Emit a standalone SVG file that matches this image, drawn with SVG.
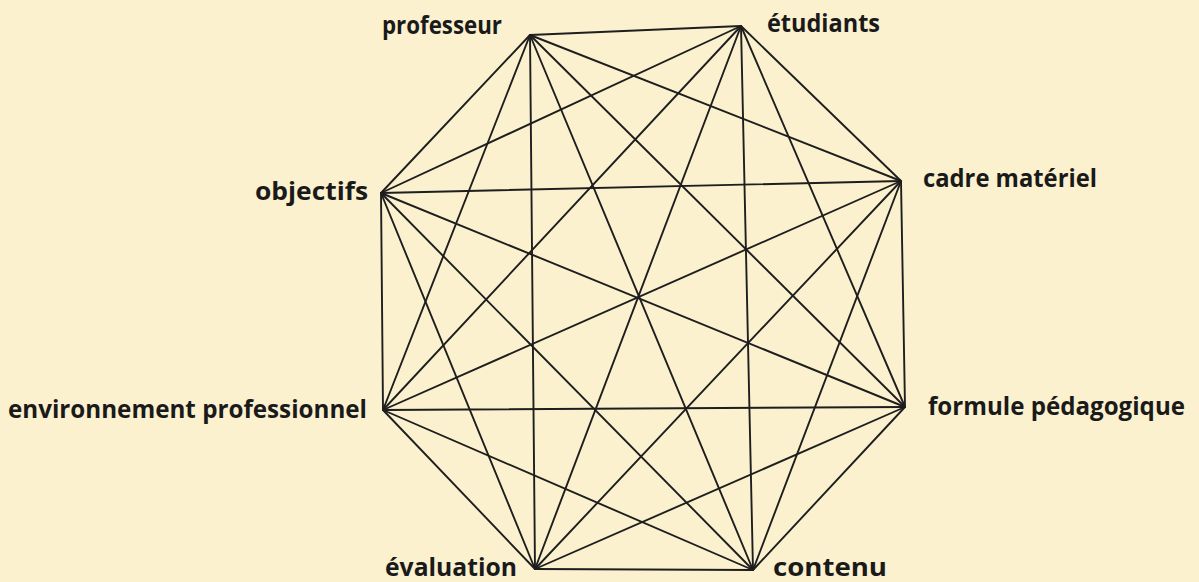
<svg xmlns="http://www.w3.org/2000/svg" width="1199" height="582" viewBox="0 0 1199 582">
<style>
.bg{fill:#fbf1cf}
.e{stroke:#1e1e1e;stroke-width:1.9;fill:none;stroke-linecap:round}
.t{font-family:"Open Sans","Liberation Sans",sans-serif;font-weight:700;font-size:25px;fill:#1a1a1a}
</style>
<rect class="bg" x="0" y="0" width="1199" height="582"/>
<g id="connectors">
<line class="e" x1="530" y1="35" x2="741" y2="26"/>
<line class="e" x1="530" y1="35" x2="381" y2="193"/>
<line class="e" x1="530" y1="35" x2="901" y2="181"/>
<line class="e" x1="530" y1="35" x2="383" y2="410"/>
<line class="e" x1="530" y1="35" x2="905" y2="407"/>
<line class="e" x1="530" y1="35" x2="535" y2="569"/>
<line class="e" x1="530" y1="35" x2="753" y2="570"/>
<line class="e" x1="741" y1="26" x2="381" y2="193"/>
<line class="e" x1="741" y1="26" x2="901" y2="181"/>
<line class="e" x1="741" y1="26" x2="383" y2="410"/>
<line class="e" x1="741" y1="26" x2="905" y2="407"/>
<line class="e" x1="741" y1="26" x2="535" y2="569"/>
<line class="e" x1="741" y1="26" x2="753" y2="570"/>
<line class="e" x1="381" y1="193" x2="901" y2="181"/>
<line class="e" x1="381" y1="193" x2="383" y2="410"/>
<line class="e" x1="381" y1="193" x2="905" y2="407"/>
<line class="e" x1="381" y1="193" x2="535" y2="569"/>
<line class="e" x1="381" y1="193" x2="753" y2="570"/>
<line class="e" x1="901" y1="181" x2="383" y2="410"/>
<line class="e" x1="901" y1="181" x2="905" y2="407"/>
<line class="e" x1="901" y1="181" x2="535" y2="569"/>
<line class="e" x1="901" y1="181" x2="753" y2="570"/>
<line class="e" x1="383" y1="410" x2="905" y2="407"/>
<line class="e" x1="383" y1="410" x2="535" y2="569"/>
<line class="e" x1="383" y1="410" x2="753" y2="570"/>
<line class="e" x1="905" y1="407" x2="535" y2="569"/>
<line class="e" x1="905" y1="407" x2="753" y2="570"/>
<line class="e" x1="535" y1="569" x2="753" y2="570"/>
</g>
<g id="professeur"><text class="t" x="382" y="34" textLength="120" lengthAdjust="spacingAndGlyphs">professeur</text></g>
<g id="etudiants"><text class="t" x="767" y="32" textLength="113" lengthAdjust="spacingAndGlyphs">étudiants</text></g>
<g id="objectifs"><text class="t" x="255" y="200" textLength="113" lengthAdjust="spacingAndGlyphs">objectifs</text></g>
<g id="cadre-materiel"><text class="t" x="923" y="187" textLength="174" lengthAdjust="spacingAndGlyphs">cadre matériel</text></g>
<g id="environnement-professionnel"><text class="t" x="8" y="418" textLength="359" lengthAdjust="spacingAndGlyphs">environnement professionnel</text></g>
<g id="formule-pedagogique"><text class="t" x="928" y="415" textLength="257" lengthAdjust="spacingAndGlyphs">formule pédagogique</text></g>
<g id="evaluation"><text class="t" x="385" y="576" textLength="132" lengthAdjust="spacingAndGlyphs">évaluation</text></g>
<g id="contenu"><text class="t" x="773" y="576" textLength="114" lengthAdjust="spacingAndGlyphs">contenu</text></g>
</svg>
